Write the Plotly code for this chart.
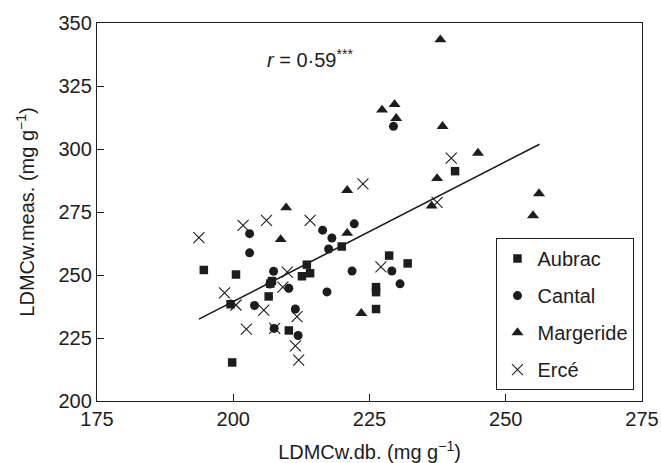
import plotly.graph_objects as go

# ---- data ----
aubrac_x = [194.6, 200.5, 199.5, 199.8, 206.5, 207.1, 206.8, 210.2, 212.6, 213.5, 214.1, 219.9, 226.2, 226.2, 226.2, 228.6, 232.0, 240.7]
aubrac_y = [252.0, 250.2, 238.4, 215.3, 241.5, 247.6, 246.6, 228.0, 249.5, 254.1, 250.7, 261.3, 245.2, 243.2, 236.5, 257.7, 254.6, 291.2]

cantal_x = [203.0, 203.0, 203.9, 207.4, 206.7, 207.5, 210.2, 211.4, 211.9, 216.4, 218.1, 217.5, 217.2, 222.2, 221.8, 229.1, 230.6, 229.4]
cantal_y = [266.4, 258.8, 237.9, 251.5, 246.4, 228.8, 244.7, 236.5, 226.0, 267.8, 264.7, 260.3, 243.3, 270.3, 251.6, 251.6, 246.5, 309.0]

marg_x = [238.0, 227.3, 229.6, 229.9, 238.4, 244.9, 237.4, 236.4, 256.1, 255.0, 220.9, 220.9, 209.7, 208.7, 223.5]
marg_y = [343.4, 315.5, 317.7, 312.2, 309.0, 298.4, 288.3, 277.4, 282.3, 273.6, 283.6, 266.6, 276.7, 264.1, 234.8]

erce_x = [193.7, 198.4, 200.5, 201.8, 202.4, 206.1, 205.6, 207.6, 209.9, 209.1, 214.1, 211.7, 211.4, 212.0, 223.8, 227.1, 240.0, 237.4]
erce_y = [264.8, 242.9, 238.1, 269.7, 228.5, 271.7, 236.1, 228.8, 251.1, 245.2, 271.7, 233.5, 221.9, 216.2, 286.2, 253.2, 296.4, 278.8]

fit_x = [193.7, 256.2]
fit_y = [232.5, 301.9]

x_ticks = [175, 200, 225, 250, 275]
y_ticks = [200, 225, 250, 275, 300, 325, 350]

INK = "#1e1c1d"
FONT = "Liberation Sans, Arial, Helvetica, sans-serif"

fig = go.Figure()

fig.add_trace(go.Scatter(x=fit_x, y=fit_y, mode="lines",
                         line=dict(color=INK, width=1.6), showlegend=False, hoverinfo="skip"))

fig.add_trace(go.Scatter(x=aubrac_x, y=aubrac_y, mode="markers", name="Aubrac", legendgroup="a",
                         marker=dict(symbol="square", size=8.5, color=INK)))
fig.add_trace(go.Scatter(x=cantal_x, y=cantal_y, mode="markers", name="Cantal", legendgroup="b",
                         marker=dict(symbol="circle", size=9, color=INK)))
fig.add_trace(go.Scatter(x=marg_x, y=marg_y, mode="markers", name="Margeride", legendgroup="c",
                         marker=dict(symbol="triangle-up", size=10.5, color=INK)))
fig.add_trace(go.Scatter(x=erce_x, y=erce_y, mode="markers", name="Ercé", legendgroup="d",
                         marker=dict(symbol="x-thin-open", size=11, color=INK,
                                     line=dict(color=INK, width=1.1))))

fig.add_annotation(x=214.1, y=336, xref="x", yref="y",
                   text="<i>r</i> = 0·59<sup>***</sup>", showarrow=False,
                   font=dict(family=FONT, size=20, color=INK))

axis_common = dict(showline=True, linecolor=INK, linewidth=1.3, mirror=True,
                   ticks="inside", ticklen=7, tickwidth=1.2, tickcolor=INK,
                   showgrid=False, zeroline=False, automargin=False,
                   tickfont=dict(family=FONT, size=20, color=INK))

fig.update_layout(
    width=661, height=463,
    margin=dict(l=97, r=19, t=23, b=62),
    plot_bgcolor="white", paper_bgcolor="white",
    font=dict(family=FONT, size=20, color=INK),
    xaxis=dict(range=[175, 275], tickvals=x_ticks,
               title=dict(text="LDMCw.db. (mg g<sup>−1</sup>)", standoff=17,
                          font=dict(family=FONT, size=20, color=INK)),
               **axis_common),
    yaxis=dict(range=[200, 350], tickvals=y_ticks,
               title=dict(text="LDMCw.meas. (mg g<sup>−1</sup>)", standoff=18,
                          font=dict(family=FONT, size=20, color=INK)),
               **axis_common),
    legend=dict(x=0.733, y=0.431, xanchor="left", yanchor="top",
                bordercolor=INK, borderwidth=1, bgcolor="white",
                font=dict(family=FONT, size=20, color=INK),
                tracegroupgap=8, itemwidth=30),
)

fig.write_html("out.html", config={"displayModeBar": False},
               post_script="document.body.style.margin='0';document.body.style.overflow='hidden';")
